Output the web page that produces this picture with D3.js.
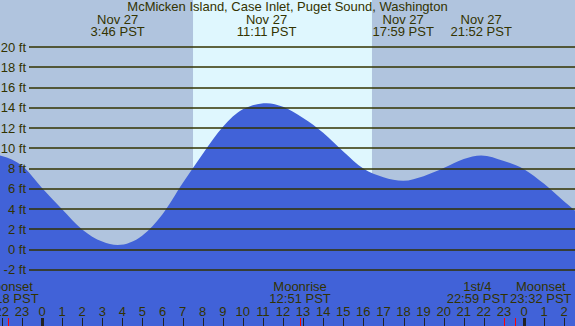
<!DOCTYPE html>
<html lang="en">
<head>
<meta charset="UTF-8">
<title>McMicken Island tide</title>
<script src="https://d3js.org/d3.v7.min.js"></script>
<style>
  body { margin: 0; }
  svg text { font-family: "Liberation Sans", Arial, sans-serif; font-size: 13px; fill: #333300; }
</style>
</head>
<body>
<div id="chart"></div>
<script>
// tide readings: hours from midnight Nov 27, height in ft
const tideHours = [-3, -2, -1, 0, 1, 2, 3, 3.767, 5, 6, 7, 8, 9, 10, 11.183, 12, 13, 14, 15, 16, 17, 17.983, 19, 20, 21, 21.867, 23, 24, 25, 26, 27];
const tideFeet  = [9.55, 9.25, 8.3, 6.1, 4.0, 2.0, 0.8, 0.46, 1.4, 3.5, 6.55, 9.45, 12.1, 13.85, 14.45, 14.1, 13.0, 11.55, 9.7, 8.0, 7.15, 6.8, 7.25, 8.05, 8.95, 9.3, 8.75, 7.95, 6.5, 4.75, 3.1];

// high / low labels
const eventHours = [3.767, 11.183, 17.983, 21.867];
const eventDates = ["Nov 27", "Nov 27", "Nov 27", "Nov 27"];
const eventTimes = ["3:46 PST", "11:11 PST", "17:59 PST", "21:52 PST"];

// moon
const moonHours = [-1.7, 12.85, 22.983, 23.533];
const moonNames = ["Moonset", "Moonrise", "1st/4", "Moonset"];
const moonTimes = ["22:18 PST", "12:51 PST", "22:59 PST", "23:32 PST"];

// sunrise / sunset
const sunHours = [7.52, 16.43];

const feetTicks = d3.range(-2, 21, 2);
const hourTicks = d3.range(-2, 27);

const title = "McMicken Island, Case Inlet, Puget Sound, Washington";

const width = 575, height = 326;

const x = d3.scaleLinear().domain([0, 24]).range([42, 524]);
const y = d3.scaleLinear().domain([0, 20]).range([249.7, 47]);

const svg = d3.select("#chart").append("svg")
    .attr("width", width)
    .attr("height", height);

// night background
svg.append("rect")
    .attr("width", width).attr("height", height)
    .attr("fill", "#b0c4de");

// daylight
svg.append("rect")
    .attr("x", x(sunHours[0]))
    .attr("width", x(sunHours[1]) - x(sunHours[0]))
    .attr("y", 0).attr("height", height)
    .attr("fill", "#dff7fe");

// tide area
const tide = tideHours.map((h, i) => ({h: h, v: tideFeet[i]}));
const area = d3.area()
    .curve(d3.curveMonotoneX)
    .x(d => x(d.h))
    .y0(height)
    .y1(d => y(d.v));

svg.append("path")
    .datum(tide)
    .attr("d", area)
    .attr("fill", "#4162d8");

// grid lines + labels
svg.selectAll("line.grid")
    .data(feetTicks)
    .enter().append("line")
    .attr("class", "grid")
    .attr("x1", 29).attr("x2", width)
    .attr("y1", d => Math.round(y(d)))
    .attr("y2", d => Math.round(y(d)))
    .attr("stroke", "#333300")
    .attr("stroke-width", 1.5);

svg.selectAll("text.ft")
    .data(feetTicks)
    .enter().append("text")
    .attr("class", "ft")
    .attr("x", 26)
    .attr("y", d => y(d) + 4.5)
    .attr("text-anchor", "end")
    .text(d => d + " ft");

// title
svg.append("text")
    .attr("x", width / 2).attr("y", 11)
    .attr("text-anchor", "middle")
    .text(title);

// high/low labels
eventHours.forEach((h, i) => {
    svg.append("text").attr("x", x(h)).attr("y", 24)
        .attr("text-anchor", "middle").text(eventDates[i]);
    svg.append("text").attr("x", x(h)).attr("y", 36)
        .attr("text-anchor", "middle").text(eventTimes[i]);
});

// hour labels and ticks
svg.selectAll("text.hour")
    .data(hourTicks)
    .enter().append("text")
    .attr("class", "hour")
    .attr("x", d => x(d))
    .attr("y", 316)
    .attr("text-anchor", "middle")
    .text(d => ((d % 24) + 24) % 24);

svg.selectAll("line.tick")
    .data(hourTicks)
    .enter().append("line")
    .attr("class", "tick")
    .attr("x1", d => Math.round(x(d)) + 0.5)
    .attr("x2", d => Math.round(x(d)) + 0.5)
    .attr("y1", 318).attr("y2", height)
    .attr("stroke", "#222")
    .attr("stroke-width", d => (d % 24 === 0 ? 3 : 1));

// moon ticks
svg.selectAll("line.moon")
    .data(moonHours)
    .enter().append("line")
    .attr("class", "moon")
    .attr("x1", d => Math.round(x(d)) + 0.5)
    .attr("x2", d => Math.round(x(d)) + 0.5)
    .attr("y1", 318).attr("y2", height)
    .attr("stroke", "#ff0000")
    .attr("stroke-width", 1);

// moon labels; overlapping neighbours get pushed apart evenly
const moonGroups = moonHours.map((h, i) => {
    const g = svg.append("g");
    const t1 = g.append("text").attr("y", 291).attr("text-anchor", "middle").text(moonNames[i]);
    const t2 = g.append("text").attr("y", 303).attr("text-anchor", "middle").text(moonTimes[i]);
    const w = Math.max(t1.node().getComputedTextLength(), t2.node().getComputedTextLength());
    return {g: g, cx: x(h), w: w};
});

for (let pass = 0; pass < 5; pass++) {
    for (let i = 0; i < moonGroups.length - 1; i++) {
        const a = moonGroups[i], b = moonGroups[i + 1];
        const overlap = (a.cx + a.w / 2 + 2) - (b.cx - b.w / 2);
        if (overlap > 0) {
            a.cx -= overlap / 2;
            b.cx += overlap / 2;
        }
    }
}
moonGroups.forEach(m => m.g.selectAll("text").attr("x", m.cx));
</script>
</body>
</html>
